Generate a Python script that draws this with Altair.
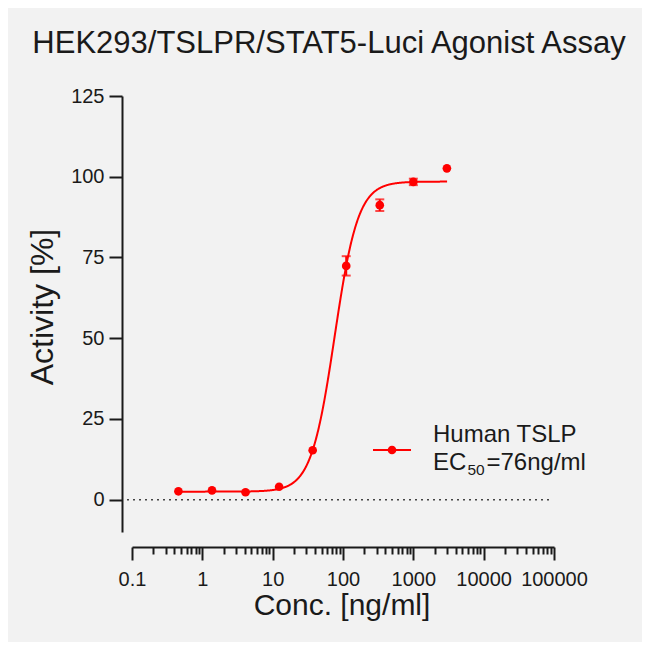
import altair as alt
import pandas as pd
import math

# ---- data ----
conc = [0.457, 1.372, 4.115, 12.35, 37.04, 111.1, 333.3, 1000.0, 3000.0]
activity = [2.6, 2.9, 2.3, 4.0, 15.3, 72.4, 91.2, 98.4, 102.6]
err = [0.0, 0.0, 0.0, 0.0, 0.0, 3.0, 1.8, 1.0, 0.0]

# 4-parameter logistic fit parameters
fit_bottom = 2.5
fit_top = 98.5
fit_ec50 = 76.0
fit_hill = 2.6
fit_min_conc = 0.457
fit_max_conc = 3000.0

y_ticks = [0, 25, 50, 75, 100, 125]
x_decades = [0.1, 1, 10, 100, 1000, 10000, 100000]

title_text = "HEK293/TSLPR/STAT5-Luci Agonist Assay"
x_title = "Conc. [ng/ml]"
y_title = "Activity [%]"
legend_name = "Human TSLP"

FONT = "Liberation Sans"
RED = "#ff0000"
INK = "#1a1a1a"

df = pd.DataFrame({"conc": conc, "act": activity, "err": err})
df["lo"] = df["act"] - df["err"]
df["hi"] = df["act"] + df["err"]
df_err = df[df["err"] > 0]

x_vals = []
for d in x_decades[:-1]:
    for m in range(1, 10):
        x_vals.append(round(m * d, 6))
x_vals.append(x_decades[-1])

is_decade = "abs(log(datum.value)/LN10 - round(log(datum.value)/LN10)) < 0.01"

xscale = alt.Scale(type="log", domain=[0.1, 100000], nice=False)
yscale = alt.Scale(domain=[-10, 125], nice=False, zero=False)

xaxis = alt.Axis(
    values=x_vals,
    labelExpr=f"({is_decade}) ? '' + datum.value : ''",
    labelOverlap=False, labelFlush=False,
    labelFont=FONT, labelFontSize=20, labelColor=INK, labelPadding=9,
    tickSize={"condition": {"test": is_decade, "value": 13}, "value": 7},
    tickWidth=2, tickColor=INK, domainColor=INK, domainWidth=2,
    offset=15, grid=False, title=None, labelBound=False,
)
yaxis = alt.Axis(
    values=y_ticks, labelFont=FONT, labelFontSize=20, labelColor=INK,
    labelPadding=5, tickSize=13, tickWidth=2, tickColor=INK,
    domainColor=INK, domainWidth=2, offset=10, grid=False, title=None,
    labelFlush=False,
)

base = alt.Chart(df)

points = base.mark_point(filled=True, size=75, color=RED, opacity=1).encode(
    x=alt.X("conc:Q", scale=xscale, axis=xaxis),
    y=alt.Y("act:Q", scale=yscale, axis=yaxis),
)

err_rule = alt.Chart(df_err).mark_rule(color=RED, strokeWidth=2).encode(
    x="conc:Q", y="lo:Q", y2="hi:Q"
)
err_lo = alt.Chart(df_err).mark_tick(color=RED, thickness=2, size=9, orient="horizontal").encode(
    x="conc:Q", y="lo:Q"
)
err_hi = alt.Chart(df_err).mark_tick(color=RED, thickness=2, size=9, orient="horizontal").encode(
    x="conc:Q", y="hi:Q"
)

lstart = math.log10(fit_min_conc)
lstop = math.log10(fit_max_conc)
curve = (
    alt.Chart(alt.sequence(start=lstart, stop=lstop + 0.005, step=0.005, as_="lt"))
    .transform_calculate(
        conc="pow(10, datum.lt)",
        act=f"{fit_bottom} + ({fit_top} - {fit_bottom}) / (1 + pow({fit_ec50} / pow(10, datum.lt), {fit_hill}))",
    )
    .mark_line(color=RED, strokeWidth=2)
    .encode(x="conc:Q", y="act:Q", order="lt:Q")
)

zero_line = alt.Chart(pd.DataFrame({"z": [0]})).mark_rule(
    color="#444", strokeDash=[2, 4], strokeWidth=1.5
).encode(y="z:Q", x=alt.value(-5), x2=alt.value(420))

txt = pd.DataFrame({"t": [0]})


def label(text, x, y, size, angle=0, align="left", baseline="alphabetic"):
    kw = dict(font=FONT, fontSize=size, color=INK, align=align, baseline=baseline)
    if angle:
        kw["angle"] = angle
    return alt.Chart(txt).mark_text(text=text, **kw).encode(
        x=alt.value(x), y=alt.value(y)
    )


title_mark = label(title_text, 197, -43, 31, align="center")
xt_mark = label(x_title, 210, 519, 30, align="center")
yt_mark = label(y_title, -79, 211, 32, angle=270, align="center")

leg_line = alt.Chart(txt).mark_rule(color=RED, strokeWidth=2).encode(
    x=alt.value(241), x2=alt.value(279), y=alt.value(354)
)
leg_dot = alt.Chart(txt).mark_point(filled=True, size=75, color=RED, opacity=1).encode(
    x=alt.value(260), y=alt.value(354)
)
leg1 = label(legend_name, 301, 346, 24)
leg2 = label("EC", 301, 374, 24)
leg3 = label("50", 335.5, 379, 15.5)
leg4 = label("=76ng/ml", 354.5, 374, 24)

chart = alt.layer(
    zero_line, curve, err_rule, err_lo, err_hi, points,
    title_mark, xt_mark, yt_mark, leg_line, leg_dot, leg1, leg2, leg3, leg4,
).properties(
    width=422, height=436,
    autosize=alt.AutoSizeParams(type="none"),
    padding={"left": 124, "top": 88, "right": 88, "bottom": 110},
    background="#f2f2f2",
).configure_view(stroke=None)

chart.save("out.html", embed_options={"renderer": "svg", "actions": False})
